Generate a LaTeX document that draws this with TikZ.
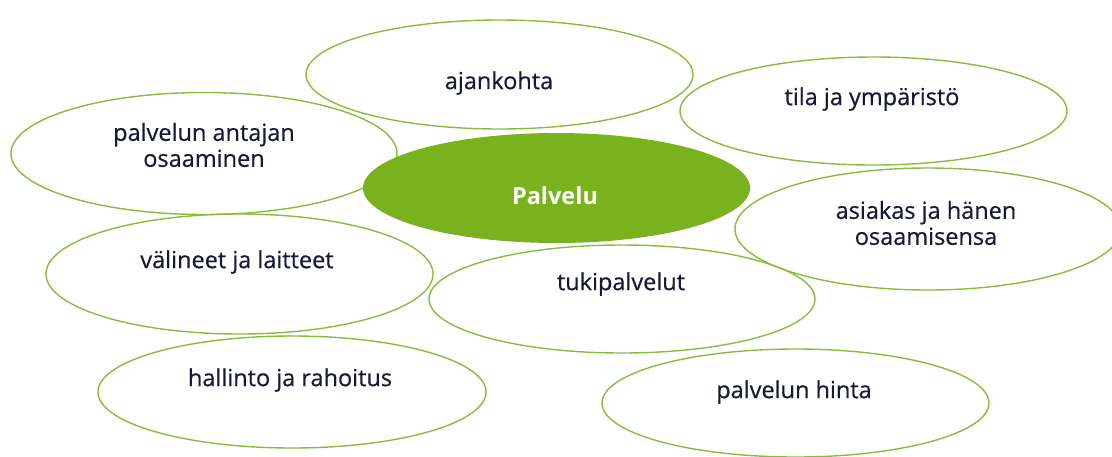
\documentclass[tikz,border=0pt]{standalone}
\usepackage{fontspec}
\setmainfont{Open Sans}
\newfontface\lblface{Open Sans}[FakeBold=0.5]
\usetikzlibrary{shapes.geometric}
\definecolor{ringgreen}{RGB}{134,190,60}
\definecolor{fillgreen}{RGB}{122,178,30}
\definecolor{txt}{RGB}{24,24,58}
\tikzset{
  ring/.style={ellipse, draw=ringgreen, line width=1.4pt, inner sep=0pt, outer sep=0pt},
  hub/.style={ellipse, fill=fillgreen, draw=none, inner sep=0pt, outer sep=0pt},
  lbl/.style={text=txt, font=\lblface\fontsize{23.5}{26}\selectfont, align=center, inner sep=0pt},
  hublbl/.style={text=white, font=\fontsize{23.5}{26}\selectfont\bfseries, inner sep=0pt}
}
\begin{document}
\begin{tikzpicture}[x=1pt,y=-1pt]
\useasboundingbox (0,0) rectangle (1112,456);
% outline ellipses
\node[ring, minimum width=387pt, minimum height=109pt] (ajE) at (499.5,74.5) {};
\node[ring, minimum width=387pt, minimum height=108pt] (tiE) at (873.5,111) {};
\node[ring, minimum width=386pt, minimum height=122pt] (anE) at (204,153.5) {};
\node[ring, minimum width=386pt, minimum height=122pt] (asE) at (928,229) {};
\node[ring, minimum width=387pt, minimum height=120pt] (vaE) at (239.5,274) {};
\node[ring, minimum width=386pt, minimum height=108pt] (tuE) at (622,299) {};
\node[ring, minimum width=388pt, minimum height=112pt] (haE) at (292,392) {};
\node[ring, minimum width=387pt, minimum height=108pt] (hiE) at (795.5,403) {};
% central filled ellipse
\node[hub, minimum width=387pt, minimum height=110pt] (paE) at (556.5,188) {};
% labels
\node[lbl] (ajT) at (499,83) {ajankohta};
\node[lbl] (tiT) at (872,99) {tila ja ympäristö};
\node[lbl] (anT) at (204,145) {palvelun antajan\\osaaminen};
\node[lbl] (asT) at (926,223) {asiakas ja hänen\\osaamisensa};
\node[lbl] (vaT) at (237,262) {välineet ja laitteet};
\node[lbl] (tuT) at (621,284) {tukipalvelut};
\node[lbl] (haT) at (290,380) {hallinto ja rahoitus};
\node[lbl] (hiT) at (794,392) {palvelun hinta};
\node[hublbl] (paT) at (555,196) {Palvelu};
\end{tikzpicture}
\end{document}
